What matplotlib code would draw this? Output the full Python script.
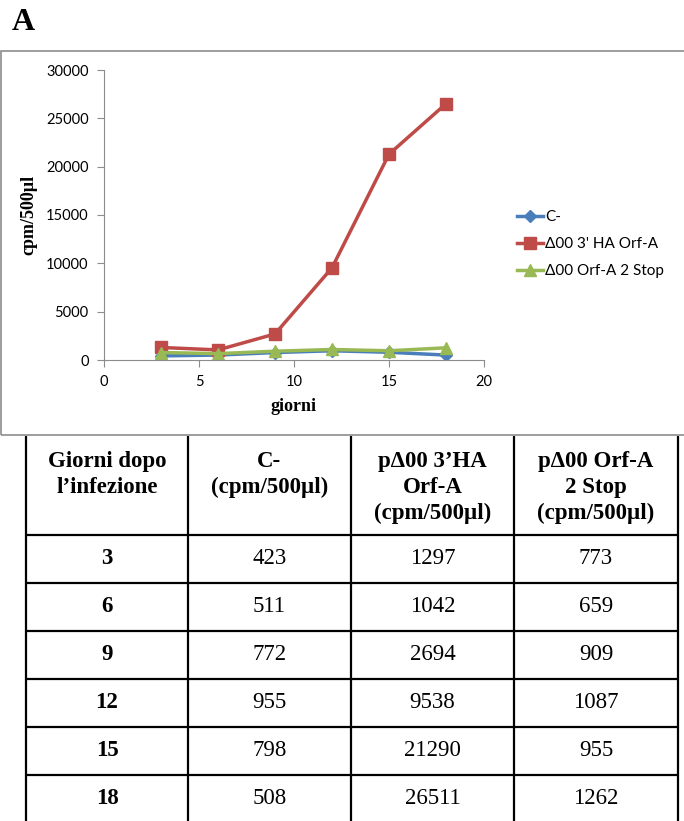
import matplotlib.pyplot as plt
from matplotlib.patches import Rectangle

giorni = [3, 6, 9, 12, 15, 18]
c_neg = [423, 511, 772, 955, 798, 508]
ha_orfa = [1297, 1042, 2694, 9538, 21290, 26511]
orfa_stop = [773, 659, 909, 1087, 955, 1262]

serie_labels = ['C-', 'Δ00 3\' HA Orf-A', 'Δ00 Orf-A 2 Stop']
header = ['Giorni dopo\nl’infezione', 'C-\n(cpm/500µl)',
          'pΔ00 3’HA\nOrf-A\n(cpm/500µl)', 'pΔ00 Orf-A\n2 Stop\n(cpm/500µl)']

W, H = 684, 821
fig = plt.figure(figsize=(W / 100, H / 100), dpi=100)

# lettera del pannello
fig.text(12 / W, 1 - 23 / H, 'A', family='Liberation Serif', weight='bold',
         fontsize=23, va='center', ha='left')

# cornice del grafico (stile Excel)
fig.patches.append(Rectangle((1 / W, 1 - 435 / H), 700 / W, 384 / H,
                             transform=fig.transFigure, fill=False,
                             edgecolor='#8c8c8c', linewidth=1.2))

ax = fig.add_axes([104 / W, 1 - 360 / H, 380 / W, 290 / H])
ax.plot(giorni, c_neg, color='#4a7ebb', marker='D', markersize=6.5, lw=2.5, label=serie_labels[0])
ax.plot(giorni, ha_orfa, color='#be4b48', marker='s', markersize=8, lw=2.5, label=serie_labels[1])
ax.plot(giorni, orfa_stop, color='#98b954', marker='^', markersize=9, lw=2.5, label=serie_labels[2])
ax.set_xlim(0, 20)
ax.set_ylim(0, 30000)
ax.set_xticks([0, 5, 10, 15, 20])
ax.set_yticks(range(0, 30001, 5000))
for s in ['top', 'right']:
    ax.spines[s].set_visible(False)
for s in ['left', 'bottom']:
    ax.spines[s].set_color('#8c8c8c')
ax.tick_params(colors='#8c8c8c', labelcolor='black', labelsize=10.5, length=5, pad=6)
for lab in ax.get_xticklabels() + ax.get_yticklabels():
    lab.set_family('Lato')
ax.set_xlabel('giorni', family='Liberation Serif', weight='bold', fontsize=13, labelpad=6)
ax.set_ylabel('cpm/500µl', family='Liberation Serif', weight='bold', fontsize=13, labelpad=6)
leg = ax.legend(loc='center left', bbox_to_anchor=(1.087, 0.40), frameon=False,
                prop={'family': 'Lato', 'size': 11}, handlelength=1.7,
                handletextpad=0.15, labelspacing=0.85, borderpad=0, borderaxespad=0)

# tabella
tx = fig.add_axes([0, 0, 1, 1])
tx.set_xlim(0, W)
tx.set_ylim(H, 0)
tx.axis('off')
cols = [26, 188, 351, 514, 678]
top = 436
row_h = 48
head_bot = 535
rows = [head_bot + i * row_h for i in range(len(giorni) + 1)]
for x in cols:
    tx.plot([x, x], [top, rows[-1]], color='black', lw=1.6, solid_capstyle='butt')
for y in rows:
    tx.plot([cols[0] - 1, cols[-1] + 1], [y, y], color='black', lw=1.6, solid_capstyle='butt')

serif = 'Liberation Serif'
for j, h in enumerate(header):
    cx = (cols[j] + cols[j + 1]) / 2
    tx.text(cx, 451, h, ha='center', va='top', family=serif, weight='bold',
            fontsize=16.5, linespacing=1.32)

for i, g in enumerate(giorni):
    cy = (rows[i] + rows[i + 1]) / 2
    vals = [str(g), str(c_neg[i]), str(ha_orfa[i]), str(orfa_stop[i])]
    for j, v in enumerate(vals):
        cx = (cols[j] + cols[j + 1]) / 2
        tx.text(cx, cy, v, ha='center', va='center', family=serif,
                weight='bold' if j == 0 else 'normal', fontsize=16.5)

fig.savefig('out.png', dpi=100)
